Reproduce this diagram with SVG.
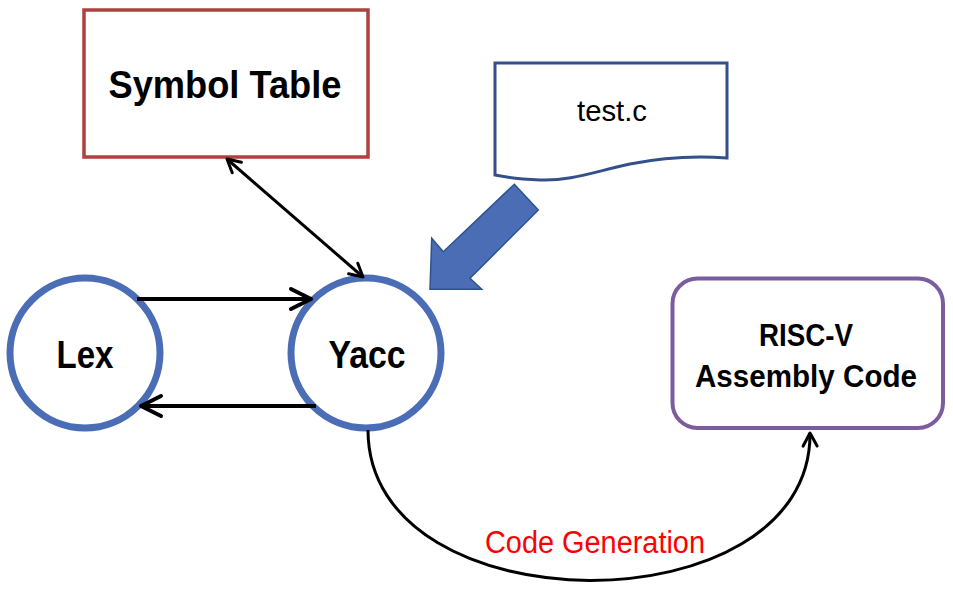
<svg xmlns="http://www.w3.org/2000/svg" width="953" height="591" viewBox="0 0 953 591">
<style>
.lbl{font-family:"Liberation Sans",Arial,sans-serif;font-weight:bold;fill:#000;text-anchor:middle}
.reg{font-family:"Liberation Sans",Arial,sans-serif;text-anchor:middle}
.circ{fill:#fff;stroke:#4a6db5;stroke-width:7}
.conn{fill:none;stroke:#000;stroke-linecap:butt}
</style>
<defs>
<marker id="big" viewBox="-24 -14 28 28" refX="0" refY="0" markerWidth="28" markerHeight="28" markerUnits="userSpaceOnUse" orient="auto-start-reverse">
<path d="M-20,-10 L0,0 L-20,10" fill="none" stroke="#000" stroke-width="4" stroke-linecap="round" stroke-linejoin="round"/>
</marker>
<marker id="small" viewBox="-18 -10 22 20" refX="0" refY="0" markerWidth="22" markerHeight="20" markerUnits="userSpaceOnUse" orient="auto-start-reverse">
<path d="M-13,-7 L0,0 L-13,7" fill="none" stroke="#000" stroke-width="3" stroke-linecap="round" stroke-linejoin="round"/>
</marker>
</defs>
<rect width="953" height="591" fill="#fff"/>

<g id="symbol-table">
<rect x="84" y="10" width="284" height="147" fill="#fff" stroke="#b0413e" stroke-width="3.5"/>
<text class="lbl" x="225" y="98" font-size="38" textLength="233" lengthAdjust="spacingAndGlyphs">Symbol Table</text>
</g>

<g id="test-c">
<path d="M495,63 H727 V158 C700,156 670,156 630,164 C590,173 570,181 540,180 C520,179 505,177 495,175 Z" fill="#fff" stroke="#34508a" stroke-width="3"/>
<text class="reg" x="612" y="121" font-size="29" fill="#000" textLength="70" lengthAdjust="spacingAndGlyphs">test.c</text>
</g>

<g id="input-arrow">
<path d="M514.3,184.3 L538.3,210 L470,278.3 L481.7,289.3 L430,289.3 L431.7,238.3 L443.3,251.7 Z" fill="#4a6db5" stroke="#2f528f" stroke-width="1.5" stroke-linejoin="miter"/>
</g>

<g id="lex">
<circle class="circ" cx="85" cy="353" r="75"/>
<text class="lbl" x="85" y="368" font-size="38" textLength="57" lengthAdjust="spacingAndGlyphs">Lex</text>
</g>

<g id="yacc">
<circle class="circ" cx="366" cy="353" r="75"/>
<text class="lbl" x="367" y="368" font-size="38" textLength="77" lengthAdjust="spacingAndGlyphs">Yacc</text>
</g>

<g id="risc-v">
<rect x="672.5" y="278.5" width="270.5" height="149.5" rx="25" ry="25" fill="#fff" stroke="#7b5d9e" stroke-width="4"/>
<text class="lbl" x="806" y="346" font-size="31" textLength="94" lengthAdjust="spacingAndGlyphs">RISC-V</text>
<text class="lbl" x="806" y="387" font-size="31" textLength="222" lengthAdjust="spacingAndGlyphs">Assembly Code</text>
</g>

<g id="connectors">
<line class="conn" x1="227" y1="159" x2="363" y2="277" stroke-width="3" marker-start="url(#small)" marker-end="url(#small)"/>
<line class="conn" x1="137" y1="299" x2="311" y2="299" stroke-width="4" marker-end="url(#big)"/>
<line class="conn" x1="316" y1="406" x2="141" y2="406" stroke-width="4" marker-end="url(#big)"/>
<path class="conn" d="M368,430 C368,630 812,630 810,433" stroke-width="3" marker-end="url(#small)"/>
<text class="reg" x="595" y="553" font-size="31" fill="#ff0000" textLength="220" lengthAdjust="spacingAndGlyphs">Code Generation</text>
</g>
</svg>
